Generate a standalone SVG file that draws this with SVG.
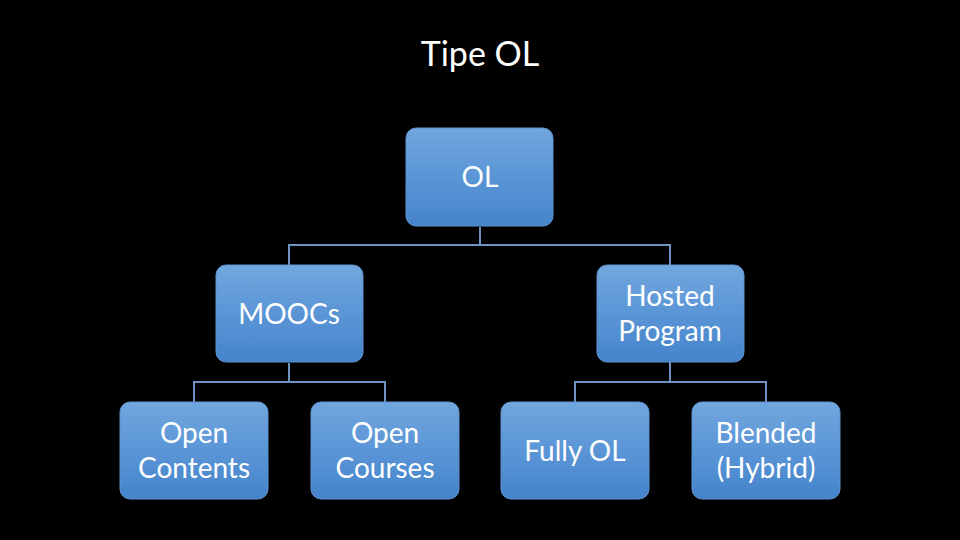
<svg xmlns="http://www.w3.org/2000/svg" width="960" height="540" viewBox="0 0 960 540">
<defs>
<linearGradient id="g" x1="0" y1="0" x2="0" y2="1">
<stop offset="0" stop-color="#72a7de"/>
<stop offset="0.5" stop-color="#5a95d6"/>
<stop offset="1" stop-color="#4584cb"/>
</linearGradient>
</defs>
<style>
.box{fill:url(#g);stroke:#5f93cf;stroke-width:1}
.t{font-family:Lato,"Open Sans","Liberation Sans",sans-serif;font-size:28px;fill:#ffffff;text-anchor:middle}
.title{font-family:Lato,"Open Sans","Liberation Sans",sans-serif;font-size:34px;fill:#ffffff;text-anchor:middle}
.c{fill:none;stroke:#6f93c0;stroke-width:2}
</style>
<rect width="960" height="540" fill="#000000"/>
<text class="title" x="480" y="66">Tipe OL</text>
<g id="connectors">
<path class="c" d="M480,227 V245 M289,265 V245 H670 V265"/>
<path class="c" d="M289,363 V382 M194,402 V382 H385 V402"/>
<path class="c" d="M670,362 V382 M575,402 V382 H766 V402"/>
</g>
<g id="n-ol"><rect class="box" x="406" y="128" width="147" height="98" rx="10"/><text class="t" x="480" y="187">OL</text></g>
<g id="n-moocs"><rect class="box" x="216" y="265" width="147" height="97" rx="10"/><text class="t" x="289" y="324">MOOCs</text></g>
<g id="n-hosted"><rect class="box" x="597" y="265" width="147" height="97" rx="10"/><text class="t" x="670" y="306">Hosted</text><text class="t" x="670" y="341">Program</text></g>
<g id="n-opencontents"><rect class="box" x="120" y="402" width="148" height="97" rx="10"/><text class="t" x="194" y="443">Open</text><text class="t" x="194" y="478">Contents</text></g>
<g id="n-opencourses"><rect class="box" x="311" y="402" width="148" height="97" rx="10"/><text class="t" x="385" y="443">Open</text><text class="t" x="385" y="478">Courses</text></g>
<g id="n-fullyol"><rect class="box" x="501" y="402" width="148" height="97" rx="10"/><text class="t" x="575" y="461">Fully OL</text></g>
<g id="n-blended"><rect class="box" x="692" y="402" width="148" height="97" rx="10"/><text class="t" x="766" y="443">Blended</text><text class="t" x="766" y="478">(Hybrid)</text></g>
</svg>
